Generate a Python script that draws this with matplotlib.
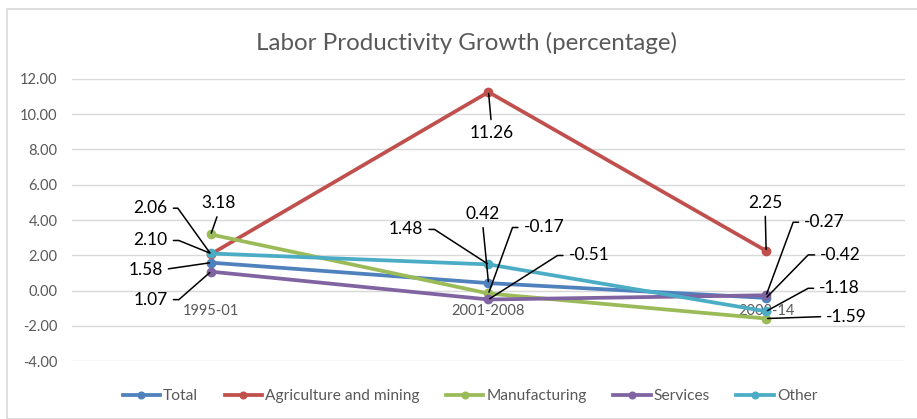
import math
import matplotlib
matplotlib.use("Agg")
import matplotlib.pyplot as plt
from matplotlib.patches import Rectangle

plt.rcParams['font.family'] = ['Lato', 'DejaVu Sans']

# data
periods = ['1995-01', '2001-2008', '2008-14']
total = [1.58, 0.42, -0.42]
agriculture = [2.06, 11.26, 2.25]
manufacturing = [3.18, -0.17, -1.59]
services = [1.07, -0.51, -0.27]
other = [2.10, 1.48, -1.18]

series = [
    ('Total', total, '#4F81BD'),
    ('Agriculture and mining', agriculture, '#C0504D'),
    ('Manufacturing', manufacturing, '#9BBB59'),
    ('Services', services, '#8064A2'),
    ('Other', other, '#4BACC6'),
]

# label placement: (dx, dy) in pixels from point, side, stub length
label_pos = {
    'Total': [(-48, -7, 'r', 0), (-6, 69, 'b', 0), (54, 43, 'l', 9)],
    'Agriculture and mining': [(-43, 46, 'r', 7), (3, -41, 't', 0), (-1, 48, 'b', 0)],
    'Manufacturing': [(8, 31, 'b', 0), (35, 66, 'l', 8), (60, 2, 'l', 0)],
    'Services': [(-43, -28, 'r', 8), (80, 44, 'l', 8), (38, 73, 'l', 8)],
    'Other': [(-43, 13, 'r', 8), (-65, 35, 'r', 8), (53, 23, 'l', 8)],
}

W, H = 917, 419
fig = plt.figure(figsize=(W / 100, H / 100), dpi=100)
fig.patches.append(Rectangle((7 / W, 0), 1, 1 - 9 / H, transform=fig.transFigure,
                             fill=False, edgecolor='#D9D9D9', lw=1.2))
ax = fig.add_axes([72 / W, 58 / H, 833 / W, 282 / H])

grid_c = '#D9D9D9'
text_c = '#595959'

x = list(range(len(periods)))
for name, vals, col in series:
    ax.plot(x, vals, color=col, lw=2.7, marker='o', ms=6, label=name, zorder=3)

GAP = 3


def add_label(xi, yi, txt, dx, dy, side, stub):
    if side == 'r':
        ha, va, rel = 'right', 'center', (1, 0.5)
        cx = dx + stub + GAP
    elif side == 'l':
        ha, va, rel = 'left', 'center', (0, 0.5)
        cx = dx - stub - GAP
    elif side == 'b':
        ha, va, rel = 'center', 'center', (0.5, 0)
        cx = None
    else:
        ha, va, rel = 'center', 'center', (0.5, 1)
        cx = None
    if cx is not None and stub > 0:
        angB = math.degrees(math.atan2(-dy, -cx))
        cs = f"angle,angleA=0,angleB={angB},rad=0"
    else:
        cs = "arc3,rad=0"
    ax.annotate(txt, xy=(xi, yi), xytext=(dx, dy), textcoords='offset pixels',
                ha=ha, va=va, fontsize=12.5, color='black', zorder=5,
                arrowprops=dict(arrowstyle='-', color='black', lw=1.1,
                                shrinkA=2, shrinkB=1, relpos=rel,
                                connectionstyle=cs))


for name, vals, col in series:
    for xi, v, (dx, dy, side, stub) in zip(x, vals, label_pos[name]):
        add_label(xi, v, f"{v:.2f}", dx, dy, side, stub)

ax.set_xlim(-0.5, 2.5)
ax.set_ylim(-4, 12)
ax.set_yticks(range(-4, 13, 2))
ax.set_yticklabels([f"{t:.2f}" for t in range(-4, 13, 2)])
ax.set_xticks(x)
ax.set_xticklabels(periods)
ax.grid(axis='y', color=grid_c, lw=1)
ax.set_axisbelow(True)
for s in ['top', 'right', 'left']:
    ax.spines[s].set_visible(False)
ax.spines['bottom'].set_position(('data', 0))
ax.spines['bottom'].set_color(grid_c)
ax.tick_params(axis='both', length=0, colors=text_c, labelsize=10.5)
ax.tick_params(axis='x', pad=10)
ax.tick_params(axis='y', pad=10.5)

fig.text(467 / W, 1 - 43 / H, 'Labor Productivity Growth (percentage)',
         ha='center', va='center', fontsize=17.4, color=text_c)

leg = fig.legend(loc='center', bbox_to_anchor=(470 / W, 1 - 396 / H), ncol=5,
                 frameon=False, fontsize=11.2, handlelength=2.4, handletextpad=0.2,
                 columnspacing=1.7, markerscale=0.8)
for t in leg.get_texts():
    t.set_color(text_c)

fig.savefig('out.png', dpi=100)
